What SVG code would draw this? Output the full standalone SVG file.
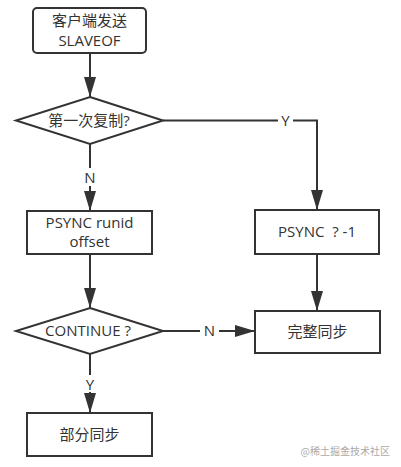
<svg xmlns="http://www.w3.org/2000/svg" width="401" height="467" viewBox="0 0 401 467">
<defs>
<marker id="ah" viewBox="0 0 20 12" refX="20" refY="6" markerWidth="20" markerHeight="12" markerUnits="userSpaceOnUse" orient="auto">
<path d="M0,0 L20,6 L0,12 Z" fill="#333"/>
</marker>
<style>
.n{fill:#fff;stroke:#333;stroke-width:2}
.c{fill:none;stroke:#333;stroke-width:2}
.t{font-family:"Open Sans","Noto Sans CJK SC",sans-serif;font-size:15px;fill:#333;text-anchor:middle}
.lbl{font-family:"Open Sans",sans-serif;font-size:15px;fill:#333;text-anchor:middle}
.wm{font-family:"Noto Sans CJK SC",sans-serif;font-size:10px;fill:#aaa;text-anchor:end}
</style>
</defs>
<rect width="401" height="467" fill="#fff"/>
<g id="connectors">
<path class="c" d="M90,53 V97" marker-end="url(#ah)"/>
<path class="c" d="M163,120.5 H317 V210" marker-end="url(#ah)"/>
<path class="c" d="M90,144 V168 M90,186 V211" marker-end="url(#ah)"/>
<path class="c" d="M317,254 V311" marker-end="url(#ah)"/>
<path class="c" d="M90,254 V308" marker-end="url(#ah)"/>
<path class="c" d="M163,331 H200 M219,331 H255" marker-end="url(#ah)"/>
<path class="c" d="M90,354 V375 M90,392 V413" marker-end="url(#ah)"/>
<rect x="278" y="112" width="15" height="17" fill="#fff"/>
<text class="lbl" x="285.5" y="126">Y</text>
<text class="lbl" x="90" y="183">N</text>
<text class="lbl" x="209.5" y="336">N</text>
<text class="lbl" x="90" y="390">Y</text>
</g>
<g id="node-start">
<rect class="n" x="33" y="8" width="113" height="45" rx="4"/>
<text class="t" x="89.5" y="26">客户端发送</text>
<text class="t" x="89.5" y="46">SLAVEOF</text>
</g>
<g id="node-first">
<path class="n" d="M90,97 L163,120.5 L90,144 L16,120.5 Z"/>
<text class="t" x="89" y="126">第一次复制?</text>
</g>
<g id="node-psync-runid">
<rect class="n" x="27" y="211" width="125" height="43"/>
<text class="t" x="89.5" y="228">PSYNC runid</text>
<text class="t" x="89.5" y="247">offset</text>
</g>
<g id="node-psync-1">
<rect class="n" x="255" y="210" width="124" height="44"/>
<text class="t" x="317" y="237" xml:space="preserve">PSYNC  ? -1</text>
</g>
<g id="node-continue">
<path class="n" d="M90,308 L163,331 L90,354 L16,331 Z"/>
<text class="t" x="88" y="336">CONTINUE ?</text>
</g>
<g id="node-full">
<rect class="n" x="255" y="311" width="125" height="42"/>
<text class="t" x="317.5" y="337">完整同步</text>
</g>
<g id="node-partial">
<rect class="n" x="27" y="413" width="125" height="43"/>
<text class="t" x="89.5" y="440">部分同步</text>
</g>
<text class="wm" x="390" y="455">@稀土掘金技术社区</text>
</svg>
